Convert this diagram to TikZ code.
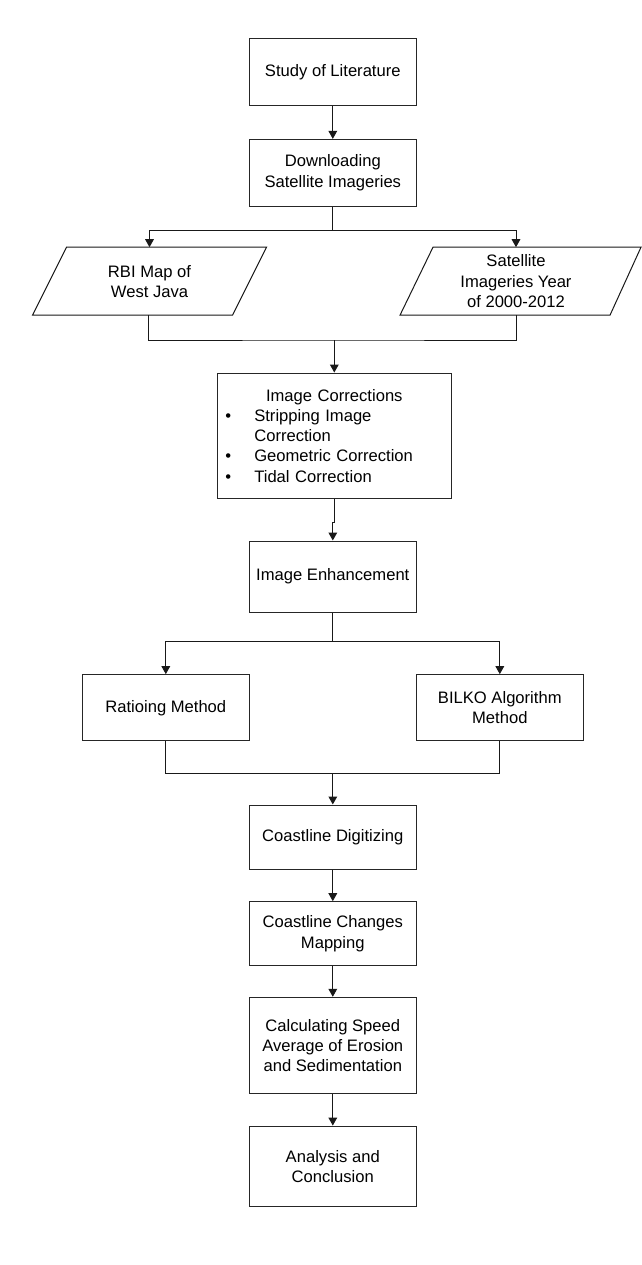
\documentclass[tikz,border=0pt]{standalone}
\usepackage{fontspec}
\setmainfont{Liberation Sans}
\usetikzlibrary{arrows.meta}
\begin{document}
\begin{tikzpicture}[x=0.75pt,y=-0.75pt,
  every node/.style={font=\fontsize{12.45}{15.2}\selectfont},
  box/.style={draw=black!85,line width=0.75pt,minimum width=125.25pt,inner sep=2pt,align=center},
  txt/.style={inner sep=0pt,align=center},
  ln/.style={line width=0.75pt,draw=black!90},
  arr/.style={ln,-{Triangle[length=6pt,width=6.5pt]}}]
\useasboundingbox (0,0) rectangle (642,1265);

% main column
\node[box,minimum height=50.25pt] (study) at (332.8,72.2) {Study of Literature};
\node[box,minimum height=50pt] (dl) at (332.8,172.7) {Downloading\\Satellite Imageries};

% parallelograms
\node[txt] (rbi) at (149.5,281.2) {RBI Map of\\West Java};
\draw[ln] ([shift={(-83,-34)}]rbi.center) -- ([shift={(117,-34)}]rbi.center)
  -- ([shift={(83,34)}]rbi.center) -- ([shift={(-117,34)}]rbi.center) -- cycle;
\node[txt] (sat) at (516,281.2) {Satellite\\Imageries Year\\of 2000-2012};
\draw[ln] ([shift={(-83,-34)}]sat.center) -- ([shift={(125,-34)}]sat.center)
  -- ([shift={(94,34)}]sat.center) -- ([shift={(-116,34)}]sat.center) -- cycle;
\coordinate (rbitop) at (149.5,247.2);
\coordinate (sattop) at (516,247.2);
\coordinate (rbibot) at (148,315.2);
\coordinate (satbot) at (516,315.2);

\node[box,minimum width=175.5pt,minimum height=94pt,inner xsep=6pt,inner ysep=2pt,text width=163.5pt,align=left] (ic) at (334.3,435.7) {%
\makebox[163.5pt][c]{Image Corrections}\\
\makebox[21.75pt][l]{\textbullet}Stripping Image\\
\hspace*{21.75pt}Correction\\
\makebox[21.75pt][l]{\textbullet}Geometric Correction\\
\makebox[21.75pt][l]{\textbullet}Tidal Correction};

\node[box,minimum height=53.25pt] (ie) at (332.8,576.5) {Image Enhancement};
\node[box,minimum height=49.75pt] (rat) at (165.8,707.8) {Ratioing Method};
\node[box,minimum height=49.75pt] (bilko) at (499.8,707.8) {BILKO Algorithm\\Method};

\node[box,minimum height=48pt] (cd) at (332.8,837) {Coastline Digitizing};
\node[box,minimum height=48pt] (cc) at (332.8,933.7) {Coastline Changes\\Mapping};
\node[box,minimum height=72.3pt] (calc) at (332.8,1045.5) {Calculating Speed\\Average of Erosion\\and Sedimentation};
\node[box,minimum height=60.2pt] (ana) at (332.8,1166.2) {Analysis and\\Conclusion};

% connectors
\draw[arr] (study) -- (dl);
\coordinate (s1) at (332.8,230.3);
\draw[ln] (dl.south) -- (s1);
\draw[arr] (s1) -| (rbitop);
\draw[arr] (s1) -| (sattop);
\coordinate (m1) at (334.3,340);
\draw[ln] (rbibot) |- (m1) -| (satbot);
\draw[arr] (m1) -- (ic.north);

\coordinate (j1) at (334.3,522);
\draw[arr] (ic.south) -- (j1) -| (ie.north);

\coordinate (s2) at (332.8,641.3);
\draw[ln] (ie.south) -- (s2);
\draw[arr] (s2) -| (rat.north);
\draw[arr] (s2) -| (bilko.north);
\coordinate (m2) at (332.8,773);
\draw[ln] (rat.south) |- (m2) -| (bilko.south);
\draw[arr] (m2) -- (cd.north);

\draw[arr] (cd) -- (cc);
\draw[arr] (cc) -- (calc);
\draw[arr] (calc) -- (ana);
\end{tikzpicture}
\end{document}
